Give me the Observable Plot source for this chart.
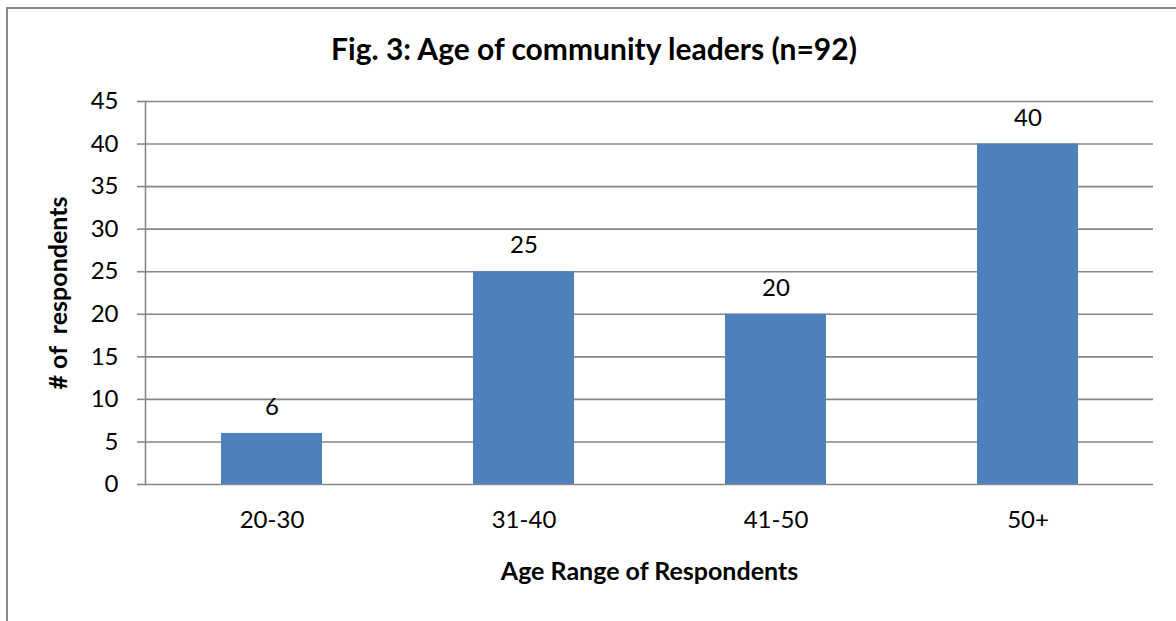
<!DOCTYPE html>
<html>
<head>
<meta charset="utf-8">
<script src="https://cdn.jsdelivr.net/npm/d3@7"></script>
<script src="https://cdn.jsdelivr.net/npm/@observablehq/plot@0.6"></script>
<style>
  html, body { margin: 0; padding: 0; background: #fff; }
  #wrap { position: relative; width: 1176px; height: 621px; overflow: hidden; font-family: Lato, "Open Sans", sans-serif; }
  #border { position: absolute; left: 6px; top: 7px; width: 1300px; height: 700px; border-left: 2px solid #8a8a8a; border-top: 2px solid #8a8a8a; box-sizing: border-box; }
  #title { position: absolute; left: 0; top: 0; width: 1188px; height: 70px; line-height: 97px; text-align: center; font-weight: bold; font-size: 30px; color: #000; }
  #chart { position: absolute; left: 0; top: 70px; }
</style>
</head>
<body>
<div id="wrap">
  <div id="border"></div>
  <div id="title">Fig. 3: Age of community leaders (n=92)</div>
  <div id="chart"></div>
</div>
<script>
const categories = ["20-30", "31-40", "41-50", "50+"];
const respondents = [6, 25, 20, 40];
const yTicks = [0, 5, 10, 15, 20, 25, 30, 35, 40, 45];
const xTitle = "Age Range of Respondents";
const yTitle = "# of  respondents";

const data = categories.map((c, i) => ({age: c, n: respondents[i]}));

const W = 1176, H = 551, mL = 145, mR = 23, mT = 31, mB = 137;
const step = (W - mL - mR) / categories.length;
const grid = "#878787";
const font = "Lato, 'Open Sans', sans-serif";

const chart = Plot.plot({
  width: W,
  height: H,
  marginLeft: mL,
  marginRight: mR,
  marginTop: mT,
  marginBottom: mB,
  style: {fontFamily: font, fontSize: "24px", color: "#000", background: "transparent"},
  x: {type: "band", domain: categories, paddingInner: 0.6, paddingOuter: 0.3, axis: null},
  y: {domain: [0, 45], axis: null},
  marks: [
    Plot.ruleY(yTicks, {y: d => d, stroke: grid, strokeWidth: 1.6}),
    Plot.frame({anchor: "left", stroke: grid, strokeWidth: 1.6}),
    Plot.axisY(yTicks, {tickSize: 8, tickPadding: 19, stroke: grid, strokeWidth: 1.6, fill: "#000", fontSize: 24, label: null}),
    Plot.barY(data, {x: "age", y: "n", fill: "#4F81BD"}),
    Plot.text(data, {x: "age", y: "n", text: d => String(d.n), dy: -26, fontSize: 24, fill: "#000"}),
    // category boundary ticks below the axis
    Plot.ruleX(categories, {x: d => d, y: 0, dx: -step / 2, dy: 4, stroke: grid, strokeWidth: 1.6}),
    Plot.ruleX(categories.slice(-1), {x: d => d, y: 0, dx: step / 2, dy: 4, stroke: grid, strokeWidth: 1.6}),
    Plot.text(categories, {x: d => d, frameAnchor: "bottom", dy: 43, fontSize: 24, fill: "#000"}),
    Plot.text([xTitle], {frameAnchor: "bottom", dy: 95, fontSize: 25, fontWeight: "bold", fill: "#000"}),
    Plot.text([yTitle], {frameAnchor: "left", textAnchor: "middle", dx: -87, rotate: -90, fontSize: 25, fontWeight: "bold", fill: "#000"})
  ]
});
document.getElementById("chart").appendChild(chart);
</script>
</body>
</html>
